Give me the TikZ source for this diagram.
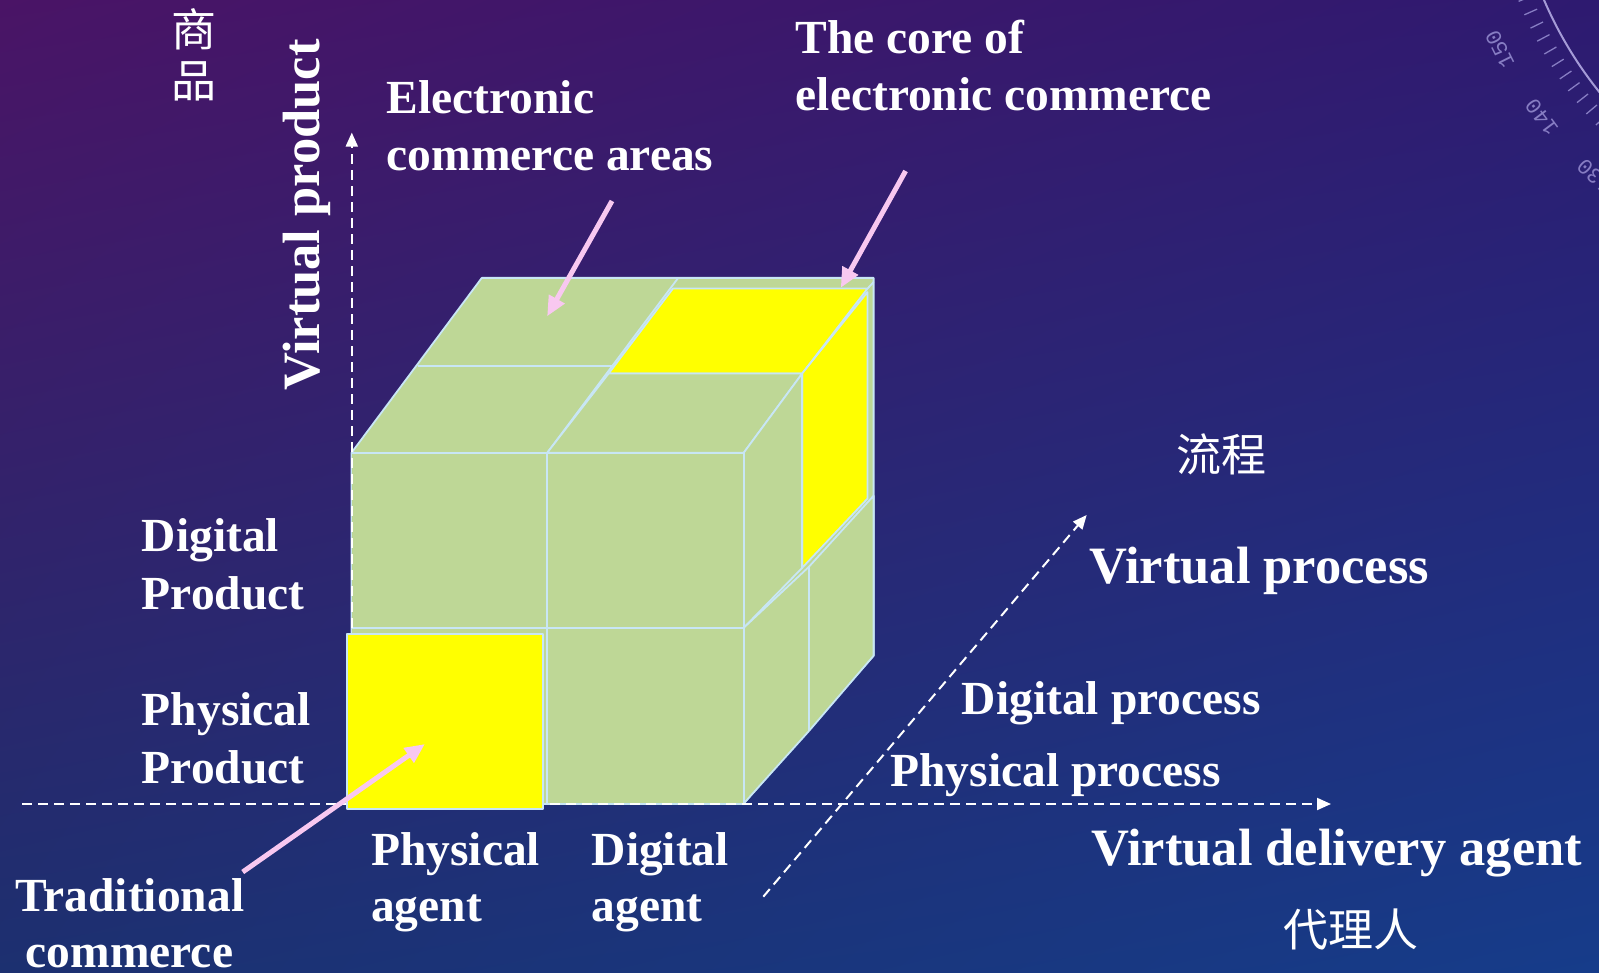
\documentclass[tikz,border=0pt]{standalone}
\usepackage{fontspec}
\setmainfont{Liberation Serif}
\newfontfamily\cjkfont{Noto Sans CJK SC}
\newfontfamily\dialfont{Liberation Mono}
\usetikzlibrary{arrows.meta,shadings}
\definecolor{bgUL}{RGB}{74,20,102}
\definecolor{bgUR}{RGB}{46,26,112}
\definecolor{bgLL}{RGB}{28,48,112}
\definecolor{bgLR}{RGB}{22,60,138}
\definecolor{cubegreen}{RGB}{190,215,150}
\definecolor{cubeyellow}{RGB}{255,255,0}
\definecolor{edgeblue}{RGB}{200,230,245}
\definecolor{arrowpink}{RGB}{248,200,240}
\definecolor{dialcol}{RGB}{135,125,195}
\definecolor{dialarc}{RGB}{165,155,215}
\tikzset{
  lbl/.style={text=white, font=\bfseries\fontsize{47.5}{50}\selectfont, anchor=base west, inner sep=0pt},
  biglbl/.style={lbl, font=\bfseries\fontsize{52.5}{55}\selectfont},
  cjk/.style={text=white, font=\cjkfont\fontsize{45}{51}\selectfont, inner sep=0pt, align=center},
  face/.style={fill=cubegreen, draw=edgeblue, line width=1.8pt, line join=round},
  yface/.style={face, fill=cubeyellow},
  edgeline/.style={draw=edgeblue, line width=1.8pt},
  axisline/.style={draw=white, line width=2pt, dash pattern=on 10pt off 6pt, -{Triangle[length=14pt,width=12pt]}},
  pinkarrow/.style={draw=arrowpink, line width=5pt, -{Triangle[length=20pt,width=17pt]}},
  dialline/.style={draw=dialcol, line width=1.4pt},
}
\begin{document}
\begin{tikzpicture}[x=1pt,y=-1pt]
\useasboundingbox (0,0) rectangle (1599,973);
% background
\shade[upper left=bgUL, upper right=bgUR, lower left=bgLL, lower right=bgLR] (0,0) rectangle (1599,973);
% dial decoration
\begin{scope}
  \clip (0,0) rectangle (1599,973);
  \begin{scope}[shift={(1908,-156)}, x=1pt, y=1pt]
    \draw[dialline, draw=dialarc, line width=2pt] (195:396) arc[start angle=195, end angle=235, radius=396];
    \foreach \a in {196,198,...,234} \draw[dialline, line width=1.3pt] (\a:406) -- (\a:420);
    \foreach \v in {150,140,130}
      \node[text=dialcol, font=\dialfont\fontsize{22}{22}\selectfont, inner sep=0pt, rotate={206.7+150-\v-90}] (dial\v) at ({206.7+150-\v}:457) {\v};
  \end{scope}
\end{scope}
% cube: outer silhouette
\path[face] (481.8,277.9) -- (873.6,277.9) -- (873.6,655.7) -- (743.6,803.6) -- (351.4,803.6) -- (351.4,452.9) -- cycle;
% top face details
\draw[edgeline] (678.2,277.9) -- (547.1,452.9);
\draw[edgeline] (417.5,365.7) -- (612.1,365.7);
\draw[edgeline] (867.5,288.6) -- (873.6,282.1);
% yellow core (top and right)
\path[yface] (672.9,288.6) -- (867.5,288.6) -- (802.1,373.6) -- (608.6,373.6) -- cycle;
\path[yface] (802.1,373.6) -- (867.5,292.1) -- (867.5,498.6) -- (802.1,567.9) -- cycle;
% front-top-right cube top and right faces
\path[face] (547.1,452.9) -- (743.6,452.9) -- (802.1,373.6) -- (608.6,373.6) -- cycle;
\path[face] (743.6,452.9) -- (802.1,373.6) -- (802.1,567.9) -- (743.6,627.9) -- cycle;
% lower right faces
\path[face] (743.6,627.9) -- (808.6,567.1) -- (873.6,495.7) -- (873.6,655.7) -- (808.6,731.4) -- (743.6,803.6) -- cycle;
\draw[edgeline] (808.6,567.1) -- (808.6,731.4);
% front face
\path[face] (351.4,452.9) rectangle (743.6,803.6);
\draw[edgeline] (547.1,452.9) -- (547.1,803.6);
\draw[edgeline] (351.4,627.9) -- (743.6,627.9);
% axes
\coordinate (hax0) at (22,804);
\coordinate (hax1) at (1331,804);
\coordinate (vax0) at (351.8,804);
\coordinate (vax1) at (351.8,132.6);
\coordinate (dax0) at (763.3,896.7);
\coordinate (dax1) at (1086.7,515);
\draw[axisline] (hax0) -- (hax1);
\draw[axisline] (vax0) -- (vax1);
\draw[axisline] (dax0) -- (dax1);
% traditional commerce cell
\path[yface] (347.1,634.3) rectangle (543.2,809.3);
% labels
\node[lbl] (eca1) at (386.5,114) {Electronic};
\node[lbl] (eca2) at (386.5,171) {commerce areas};
\node[lbl] (core1) at (795.5,54) {The core of};
\node[lbl] (core2) at (795.5,111) {electronic commerce};
\node[biglbl, rotate=90] (vprod) at (319,391) {Virtual product};
\node[cjk] (shangpin) at (194,55) {商\\品};
\node[lbl] (dprod1) at (141.7,551) {Digital};
\node[lbl] (dprod2) at (141.7,609) {Product};
\node[lbl] (pprod1) at (141.7,725) {Physical};
\node[lbl] (pprod2) at (141.7,783) {Product};
\node[lbl] (pagent1) at (371,865) {Physical};
\node[lbl] (pagent2) at (371,921) {agent};
\node[lbl] (dagent1) at (591.5,865) {Digital};
\node[lbl] (dagent2) at (591.5,921) {agent};
\node[lbl] (trad1) at (15.3,911) {Traditional};
\node[lbl] (trad2) at (25.5,967) {commerce};
\node[biglbl] (vproc) at (1089,583) {Virtual process};
\node[lbl] (dproc) at (961.7,714) {Digital process};
\node[lbl] (pproc) at (890.3,786) {Physical process};
\node[biglbl] (vdel) at (1091,865) {Virtual delivery agent};
\node[cjk, anchor=west] (liucheng) at (1176,454) {流程};
\node[cjk, anchor=west] (dailiren) at (1283,930) {代理人};
% pink arrows
\coordinate (ecaS) at (612,201);
\coordinate (ecaT) at (547.1,316.4);
\coordinate (coreS) at (905.6,171);
\coordinate (coreT) at (840.7,287.9);
\coordinate (tradS) at (242.7,872);
\coordinate (tradT) at (425,744);
\draw[pinkarrow] (ecaS) -- (ecaT);
\draw[pinkarrow] (coreS) -- (coreT);
\draw[pinkarrow] (tradS) -- (tradT);
\end{tikzpicture}
\end{document}
